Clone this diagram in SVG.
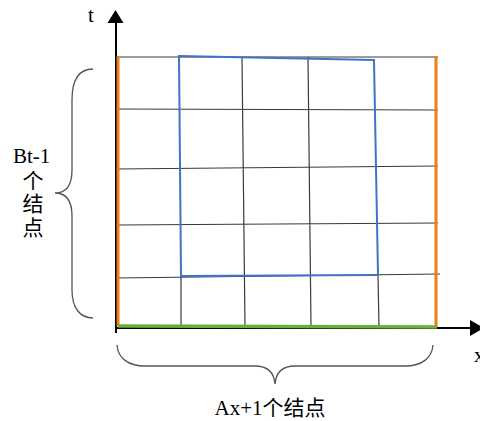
<svg xmlns="http://www.w3.org/2000/svg" width="480" height="421" viewBox="0 0 480 421">
<style>
.grid{stroke:#3a3a3a;stroke-width:1.2;fill:none}
.axis{stroke:#000;stroke-width:2;fill:none}
.orange{stroke:#EE7D1A;stroke-width:3;fill:none}
.green{stroke:#6AAE3C;stroke-width:3.5;fill:none}
.blue{stroke:#4472C4;stroke-width:2;fill:none}
.brace{stroke:#555;stroke-width:1.3;fill:none}
.lbl{font-family:"Liberation Serif","Noto Sans CJK SC",serif;font-size:21px;fill:#000}
</style>
<rect width="480" height="421" fill="#fff"/>
<g id="axes">
<path class="axis" d="M116,333 L116,20"/>
<polygon points="107.5,23 115.5,10 123.5,23" fill="#000"/>
<path class="axis" d="M116,328 L473,328"/>
<polygon points="470,320 484,328 470,336" fill="#000"/>
<text class="lbl" x="88" y="22">t</text>
<text class="lbl" x="474" y="362">x</text>
</g>
<g id="grid">
<path class="grid" d="M116,57 L438,57 M116,109 L438,110 M116,169 L438,166 M116,225 L438,223 M116,278 L440,274 M181,276 L181,327 M242,57 L245,327 M308,57 L311,327 M378,275 L379,327"/>
</g>
<g id="blue-rect">
<path class="blue" d="M179,56 L374,60 L378,275 L181,276 Z"/>
</g>
<g id="borders">
<path class="orange" d="M118,57 L118,326"/>
<path class="orange" d="M436,56 L436,327"/>
<path class="green" d="M118,326 L437,327"/>
</g>
<g id="left-brace">
<path class="brace" d="M93,69 C78,69 72,80 72,100 L72,170 C72,186 66,193 55,193 C66,193 72,200 72,216 L72,290 C72,308 80,318 93,318"/>
<text class="lbl" x="13" y="163">Bt-1</text>
<text class="lbl" x="33" y="188" text-anchor="middle" font-size="20">个</text>
<text class="lbl" x="33" y="211" text-anchor="middle" font-size="20">结</text>
<text class="lbl" x="33" y="235" text-anchor="middle" font-size="20">点</text>
</g>
<g id="bottom-brace">
<path class="brace" d="M117,345 C118,358 128,366 145,366 L255,366 C268,366 274,373 275,384 C276,373 282,366 295,366 L405,366 C422,366 432,358 433,345"/>
<text class="lbl" x="270" y="415" text-anchor="middle">Ax+1个结点</text>
</g>
</svg>
